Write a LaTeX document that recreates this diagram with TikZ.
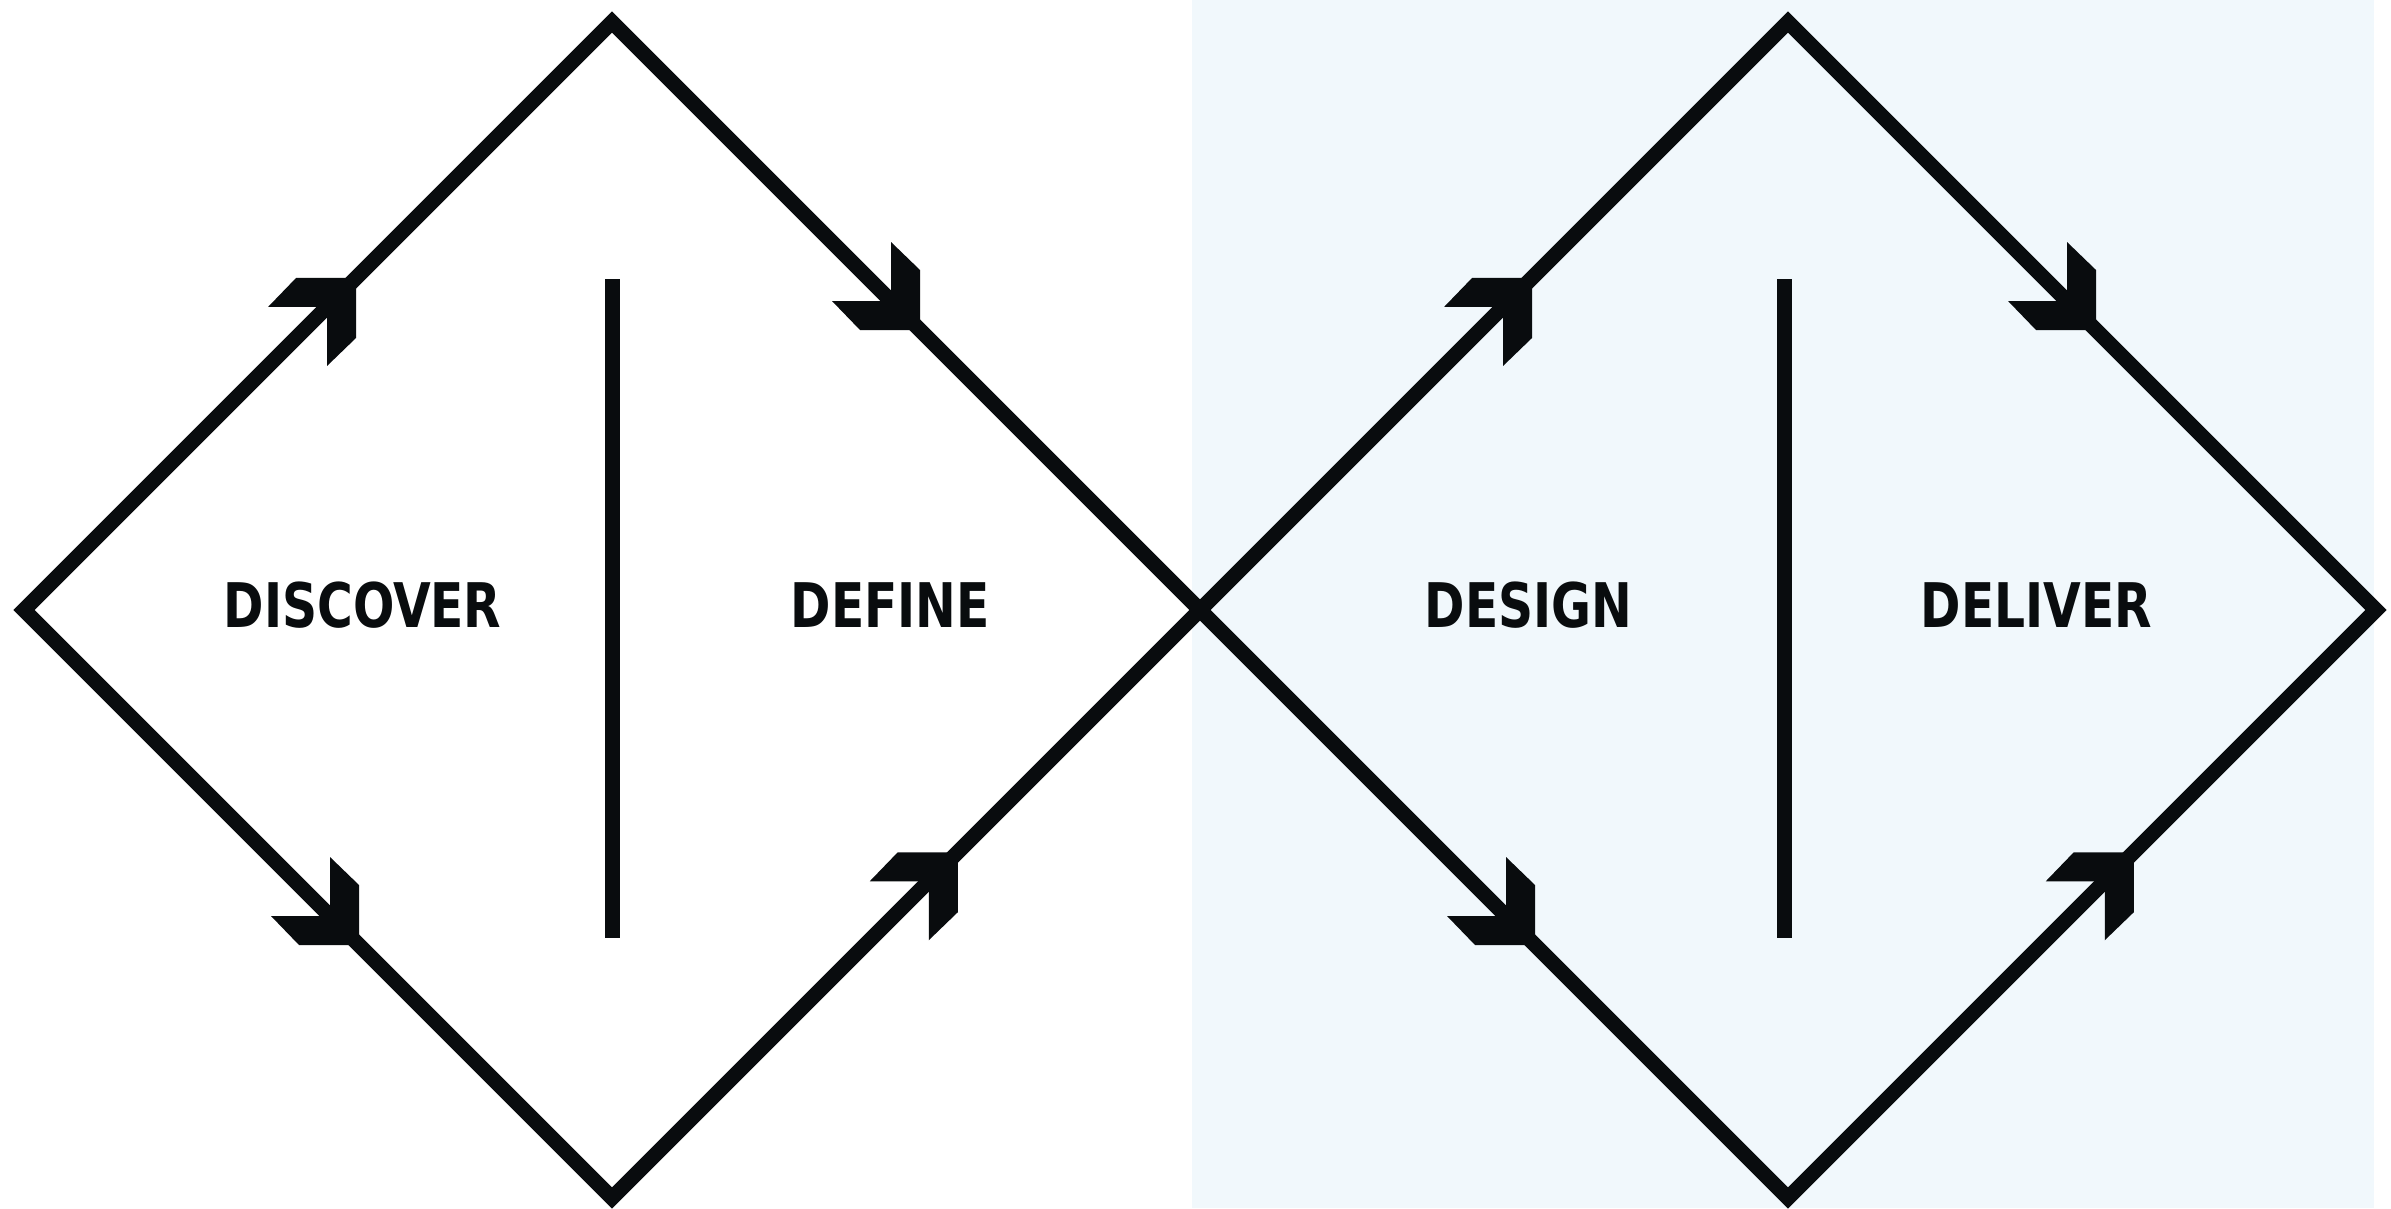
\documentclass[tikz,border=0pt]{standalone}
\usepackage{fontspec}
\usetikzlibrary{calc}
\newfontfamily\stagefont{DejaVu Sans Condensed}
\newcommand\narrowtext[1]{\scalebox{.88}[1]{#1}}
\definecolor{inkblack}{HTML}{090C0E}
\definecolor{paleblue}{HTML}{F1F8FC}
\tikzset{
  outline/.style={draw=inkblack,line width=1.5mm},
  divider/.style={draw=inkblack,line width=1.5mm},
  stage/.style={font=\stagefont\bfseries\fontsize{17.5}{20}\selectfont,text=inkblack,inner sep=0pt,anchor=west},
  pics/chevron/.style={code={
    \fill[inkblack] (0,0)--(0,-60)--(-29,-88)--(-29,-29)--(-88,-29)--(-60,0)--cycle;}},
}

\begin{document}
\begin{tikzpicture}[x=.1mm,y=-.1mm]
	\useasboundingbox (0,0) rectangle (2391,1208);
	\fill[white] (0,0) rectangle (2391,1208);
	\fill[paleblue] (1192,0) rectangle (2374,1208);
	% the two diamonds
	\foreach \dx/\n in {0/a,1176/b}{
		\coordinate (w\n) at (24+\dx,610);
		\coordinate (n\n) at (612+\dx,22);
		\coordinate (e\n) at (1200+\dx,610);
		\coordinate (s\n) at (612+\dx,1198);
		\draw[outline] (w\n)--(n\n)--(e\n)--(s\n)--cycle;
		\pic[yscale=-1] at ($(w\n)!.565!(n\n)$) {chevron};
		\pic at ($(n\n)!.524!(e\n)$) {chevron};
		\pic at ($(w\n)!.57!(s\n)$) {chevron};
		\pic[yscale=-1] at ($(s\n)!.588!(e\n)$) {chevron};
	}
	\coordinate (upa) at (612,279); \coordinate (lowa) at (612,938);
	\coordinate (upb) at (1784,279); \coordinate (lowb) at (1784,938);
	\draw[divider] (upa)--(lowa);
	\draw[divider] (upb)--(lowb);
	\node[stage] (discover) at (223,605) {\narrowtext{DISCOVER}};
	\node[stage] (define) at (790,605) {\narrowtext{DEFINE}};
	\node[stage] (design) at (1424,605) {\narrowtext{DESIGN}};
	\node[stage] (deliver) at (1920,605) {\narrowtext{DELIVER}};
\end{tikzpicture}
\end{document}
